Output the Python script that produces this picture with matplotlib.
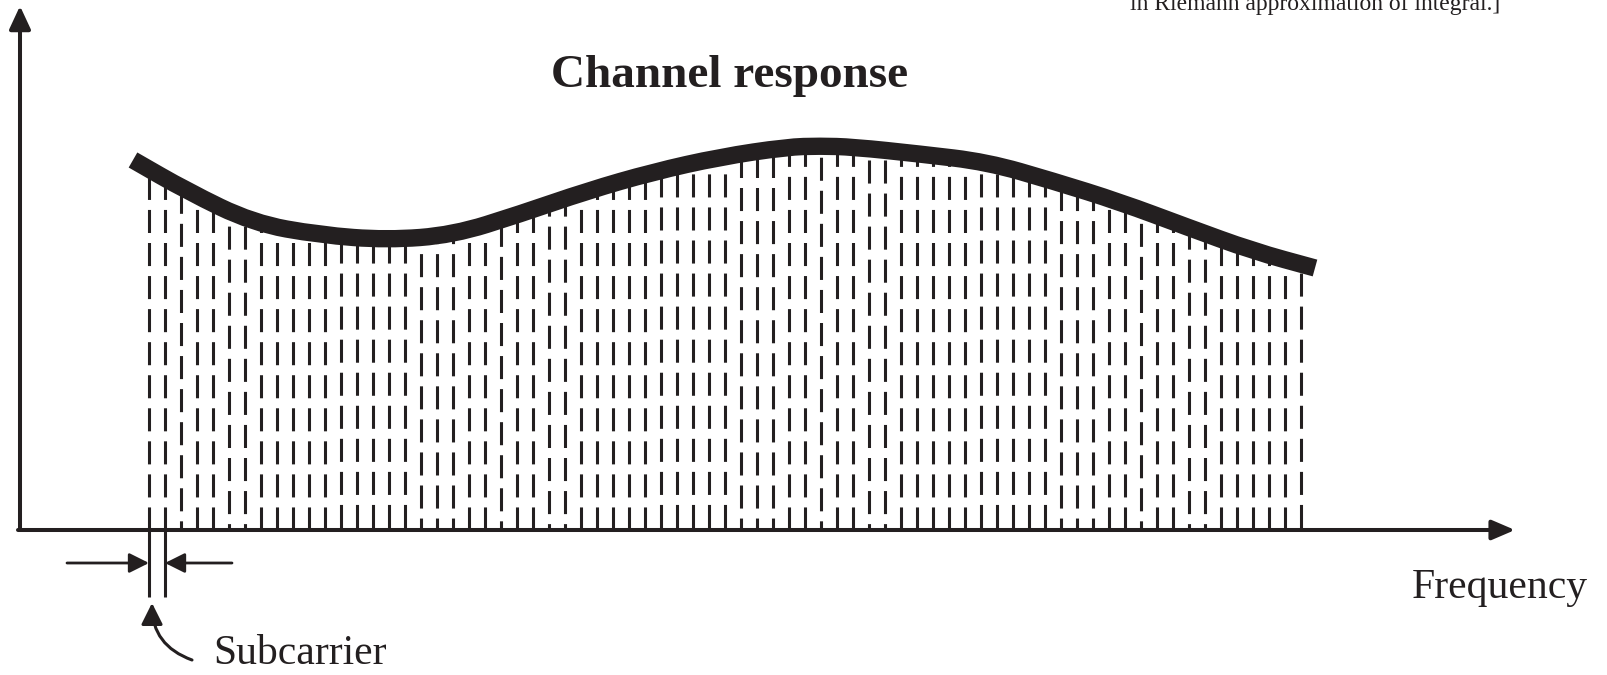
import numpy as np
import matplotlib
matplotlib.use("Agg")
import matplotlib.pyplot as plt
from matplotlib.patches import FancyArrowPatch, PathPatch
from matplotlib.path import Path

plt.rcParams['font.family'] = ['Liberation Serif', 'DejaVu Serif']
plt.rcParams['lines.scale_dashes'] = False

# channel response (frequency, magnitude)
curve_f = [113, 167, 233, 300, 367, 433, 500, 567, 633, 700, 767, 800,
           833, 900, 967, 1033, 1100, 1167, 1233, 1295]
curve_h = [370, 339, 307, 295, 290, 295, 316, 339, 358, 373, 383, 384,
           383, 376, 368, 349, 328, 303, 279, 262]

# subcarriers
n_sub = 73
first_sub = 129
sub_spacing = 16
sub_f = first_sub + sub_spacing * np.arange(n_sub)
sub_h = np.interp(sub_f, curve_f, curve_h)

title = "Channel response"
xlabel = "Frequency"
sub_label = "Subcarrier"
note = "in Riemann approximation of integral.]"

ink = '#231f20'

fig = plt.figure(figsize=(16.07, 6.75), dpi=100)
ax = fig.add_axes([0, 0, 1, 1])
ax.set_xlim(-20, 1587)
ax.set_ylim(-145, 530)
ax.axis('off')

# dashed subcarrier lines
phases = [0, 0, 10, 0, 0, 12, 12, 0, 0, 0, 0, 0, 22, 22, 22, 22, 22, 8, 8, 8]
for i, (f, h) in enumerate(zip(sub_f, sub_h)):
    off = phases[i % len(phases)]
    ax.plot([f, f], [0, h], color=ink, lw=2.2,
            linestyle=(off, (16.6, 7.2)), dash_capstyle='butt', zorder=2)

# smooth curve: quadratic beziers through midpoints of the read points
pts = np.column_stack([curve_f, curve_h]).astype(float)
mids = (pts[:-1] + pts[1:]) / 2
verts = [pts[0], mids[0]]
codes = [Path.MOVETO, Path.LINETO]
for i in range(1, len(pts) - 1):
    verts += [pts[i], mids[i]]
    codes += [Path.CURVE3, Path.CURVE3]
verts.append(pts[-1])
codes.append(Path.LINETO)
ax.add_patch(PathPatch(Path(verts, codes), fill=False, lw=12.5, edgecolor=ink,
                       capstyle='butt', joinstyle='round', zorder=3))

# axes arrows
ax.add_patch(FancyArrowPatch((0, 0), (0, 524), arrowstyle='-|>,head_length=14,head_width=6.5',
                             mutation_scale=1, lw=2.9, color=ink,
                             shrinkA=0, shrinkB=0, zorder=4))
ax.add_patch(FancyArrowPatch((-2, 0), (1495, 0), arrowstyle='-|>,head_length=14,head_width=6',
                             mutation_scale=1, lw=2.9, color=ink,
                             shrinkA=0, shrinkB=0, zorder=4))

# subcarrier spacing marker
for f in sub_f[:2]:
    ax.plot([f, f], [0, -67], color=ink, lw=2.2, solid_capstyle='butt')
ax.add_patch(FancyArrowPatch((47, -33), (sub_f[0], -33), arrowstyle='-|>,head_length=12,head_width=6',
                             mutation_scale=1, lw=2.0, color=ink,
                             shrinkA=0, shrinkB=0))
ax.add_patch(FancyArrowPatch((212, -33), (sub_f[1], -33), arrowstyle='-|>,head_length=12,head_width=6',
                             mutation_scale=1, lw=2.0, color=ink,
                             shrinkA=0, shrinkB=0))
ax.add_patch(FancyArrowPatch((172, -130), (132, -73), arrowstyle='-|>,head_length=13,head_width=6.5',
                             connectionstyle='arc3,rad=-0.35',
                             mutation_scale=1, lw=2.2, color=ink,
                             shrinkA=0, shrinkB=0))

ax.text(710, 443, title, fontsize=34, fontweight='bold', ha='center',
        va='baseline', color=ink)
ax.text(1392, -68, xlabel, fontsize=30, ha='left', va='baseline', color=ink)
ax.text(193, -134, sub_label, fontsize=30, ha='left', va='baseline', color=ink)
ax.text(1110, 520, note, fontsize=17, ha='left', va='baseline', color=ink)

fig.savefig("out.png", dpi=100)
